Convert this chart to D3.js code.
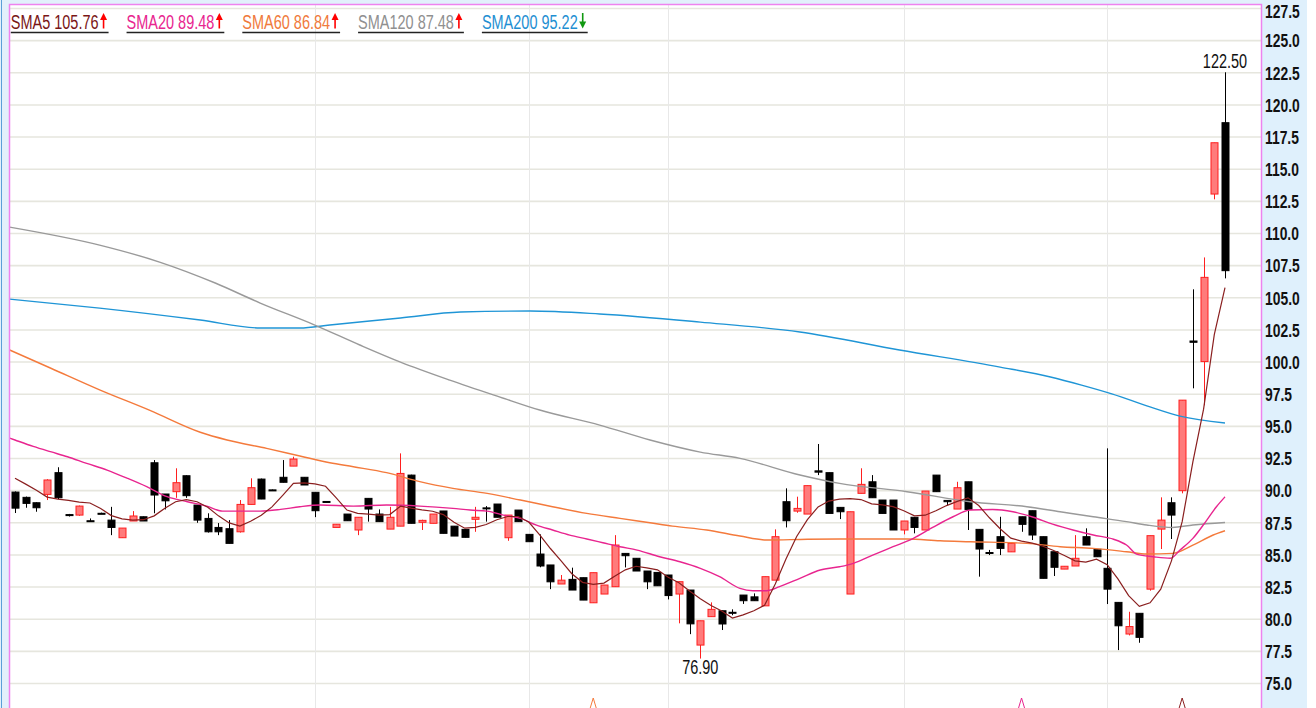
<!DOCTYPE html>
<html>
<head>
<meta charset="utf-8">
<script src="https://cdn.jsdelivr.net/npm/d3@7"></script>
<style>
  html, body { margin: 0; padding: 0; background: #fff; }
  svg { display: block; font-family: "Liberation Sans", Arial, sans-serif; }
</style>
</head>
<body>
<svg id="chart" width="1316" height="708"></svg>
<script>
// daily candles
const candleOpen = [
  89.85, 89.44, 89.02, 89.67, 91.36, 88.10, 88.06, 87.62, 88.20, 87.67,
  86.30, 87.60, 87.93, 92.13, 89.70, 89.88, 91.12, 88.84, 87.80, 87.10,
  87.00, 86.76, 88.89, 90.86, 90.02, 91.00, 91.87, 91.00, 89.83, 89.12,
  87.10, 88.14, 86.90, 89.36, 88.14, 86.97, 87.20, 91.17, 87.50, 87.42,
  88.38, 87.20, 86.95, 87.73, 88.62, 88.92, 86.30, 88.45, 86.56, 85.03,
  84.18, 82.70, 83.06, 83.19, 81.24, 81.92, 82.49, 85.08, 84.70, 83.71,
  83.60, 83.40, 81.92, 82.23, 77.95, 80.16, 80.62, 80.50, 81.84, 81.70,
  81.00, 83.00, 89.10, 88.37, 88.14, 91.50, 91.36, 88.66, 81.92, 89.75,
  90.65, 89.23, 89.23, 86.90, 87.89, 86.90, 91.17, 89.20, 88.53, 90.65,
  86.95, 85.15, 86.38, 85.20, 87.93, 88.40, 86.38, 85.21, 83.86, 84.10,
  86.38, 85.40, 83.92, 81.27, 78.81, 80.42, 82.30, 86.97, 89.02, 89.96,
  101.60, 100.00, 113.03, 118.58
];
const candleHigh = [
  89.90, 89.50, 89.05, 90.85, 91.78, 88.15, 88.80, 87.80, 88.25, 88.70,
  87.05, 88.37, 87.95, 92.34, 89.70, 91.70, 91.15, 88.84, 88.20, 87.44,
  87.67, 89.23, 90.92, 90.90, 90.05, 92.34, 92.60, 91.00, 89.83, 89.15,
  87.35, 88.14, 87.89, 89.36, 88.50, 88.70, 92.86, 91.20, 87.70, 88.14,
  88.38, 87.20, 86.95, 88.70, 88.76, 88.92, 88.06, 88.45, 86.56, 86.56,
  84.18, 83.40, 83.97, 83.19, 83.58, 82.62, 86.50, 85.08, 84.70, 83.71,
  83.60, 83.40, 82.88, 82.23, 79.84, 81.27, 80.62, 80.73, 81.84, 81.97,
  83.27, 86.95, 90.14, 89.49, 90.35, 93.59, 91.36, 88.66, 88.32, 91.70,
  91.17, 89.23, 89.23, 87.60, 87.89, 89.93, 91.17, 89.20, 90.65, 90.65,
  86.95, 85.35, 87.93, 85.86, 87.93, 88.40, 86.38, 85.21, 84.08, 86.50,
  87.03, 85.40, 93.25, 81.27, 80.54, 80.42, 86.46, 89.44, 89.44, 97.00,
  105.62, 108.10, 117.02, 122.50
];
const candleLow = [
  88.22, 88.63, 88.32, 89.23, 89.30, 87.95, 88.00, 87.58, 88.15, 86.50,
  86.30, 87.60, 87.60, 88.20, 88.50, 89.40, 89.40, 87.46, 86.70, 86.50,
  85.86, 86.70, 88.89, 89.30, 89.95, 90.60, 91.87, 90.40, 87.90, 89.05,
  87.10, 87.62, 86.50, 87.55, 87.55, 86.97, 87.20, 87.42, 86.90, 87.42,
  86.64, 86.43, 86.33, 86.76, 87.55, 87.89, 86.06, 87.55, 85.99, 84.00,
  82.30, 82.70, 82.23, 81.45, 81.24, 81.92, 82.49, 83.99, 83.71, 82.30,
  82.56, 81.50, 79.64, 78.80, 76.90, 80.16, 79.12, 80.27, 81.15, 81.40,
  81.00, 83.00, 87.10, 88.24, 88.14, 91.17, 88.19, 87.75, 81.92, 89.75,
  89.41, 88.19, 86.90, 86.56, 86.64, 86.90, 89.88, 88.84, 88.53, 86.90,
  83.27, 84.95, 84.95, 85.20, 86.76, 86.12, 83.14, 83.32, 83.86, 84.10,
  85.73, 84.82, 81.14, 77.56, 78.70, 78.13, 82.18, 85.42, 86.20, 89.75,
  97.92, 96.60, 112.62, 106.47
];
const candleClose = [
  88.60, 88.97, 88.63, 90.79, 89.41, 88.02, 88.76, 87.58, 88.15, 87.10,
  87.05, 87.99, 87.60, 89.62, 89.17, 90.58, 89.57, 87.67, 86.76, 86.76,
  85.86, 88.89, 90.19, 89.31, 89.98, 90.61, 92.42, 90.40, 88.40, 89.08,
  87.35, 87.62, 87.89, 88.53, 87.55, 87.89, 91.30, 87.42, 87.65, 88.14,
  86.64, 86.43, 86.33, 87.89, 88.58, 87.89, 88.06, 87.55, 85.99, 84.10,
  82.87, 83.00, 82.23, 81.45, 83.58, 82.62, 85.73, 84.90, 83.71, 82.87,
  82.56, 81.80, 82.88, 79.60, 79.84, 80.73, 79.59, 80.45, 81.40, 81.40,
  83.27, 86.38, 87.62, 88.58, 90.35, 91.40, 88.19, 88.32, 88.32, 90.45,
  89.41, 88.19, 86.90, 87.60, 87.10, 89.93, 89.88, 89.10, 90.19, 88.50,
  85.42, 85.10, 85.47, 85.86, 87.34, 86.51, 83.14, 84.00, 84.08, 84.70,
  85.73, 84.82, 82.30, 79.45, 79.39, 78.55, 86.46, 87.67, 88.06, 97.00,
  101.50, 106.55, 117.02, 107.07
];

// SMA5, one value per candle
const sma5 = [
  90.92, 90.47, 90.00, 89.46, 89.30, 89.20, 89.07, 89.00, 88.57, 88.02,
  87.77, 87.67, 87.70, 88.00, 88.60, 89.10, 89.26, 89.10, 88.67, 88.00,
  87.45, 87.20, 87.58, 88.05, 88.70, 89.60, 90.53, 90.56, 90.49, 90.30,
  89.40, 88.45, 88.20, 88.14, 88.06, 88.10, 88.75, 88.60, 88.47, 88.36,
  88.10, 87.50, 87.04, 87.10, 87.33, 87.70, 87.95, 87.95, 87.50, 86.53,
  85.46, 84.50, 83.50, 82.83, 82.67, 82.77, 83.30, 83.80, 84.08, 83.95,
  83.80, 83.22, 82.80, 82.15, 81.55, 81.03, 80.60, 80.05, 80.30, 80.62,
  81.05, 82.70, 84.65, 86.40, 87.70, 88.70, 89.15, 89.30, 89.34, 89.27,
  88.93, 88.86, 88.72, 88.40, 88.00, 88.05, 88.40, 88.80, 89.13, 89.40,
  88.80, 87.85, 87.00, 86.27, 86.04, 85.88, 85.64, 85.31, 84.92, 84.50,
  84.40, 84.63, 84.20, 83.10, 81.80, 80.96, 81.24, 82.30, 84.50, 87.55,
  92.20, 96.30, 102.10, 105.76
];

// slower averages, [candle index, value]
const sma20 = [
  [-0.5, 94.05], [0, 93.9], [1.7, 93.4], [3.3, 92.99], [4.9, 92.6], [6.7, 92.08],
  [8.6, 91.56], [10.5, 90.92], [12.3, 90.27], [14.2, 89.49], [16.1, 89.1],
  [17.9, 88.76], [19.4, 88.37], [22.9, 88.37], [24.8, 88.5], [26.6, 88.71],
  [28.5, 88.84], [31.6, 88.76], [34.7, 88.84], [37.8, 88.76], [40.9, 88.58],
  [42.5, 88.45], [44.1, 88.37], [45.6, 88.06], [47.2, 87.8], [48.7, 87.28],
  [50.2, 86.9], [51.8, 86.5], [53.4, 86.2], [54.9, 85.91], [56.5, 85.6],
  [58.1, 85.34], [60.2, 84.82], [62.1, 84.43], [64, 83.92], [65.8, 83.27],
  [67.7, 82.36], [68.9, 82.18], [70.2, 82.18], [71.4, 82.49], [73.3, 83.14],
  [75.2, 83.79], [77, 84.04], [78.3, 84.31], [80.1, 84.95], [82, 85.6],
  [83.9, 86.25], [85.7, 87.1], [87.6, 87.93], [89.2, 88.45], [91.3, 88.5],
  [93.2, 88.32], [95.1, 87.89], [96.9, 87.36], [98.8, 86.9], [100.7, 86.51],
  [102.6, 86.18], [103.8, 85.73], [104.8, 85.0], [106.3, 84.82], [107.9, 84.7],
  [108.8, 85.34], [110, 86.25], [111.3, 87.67], [112.2, 88.71], [113, 89.48]
];
const sma60 = [
  [-0.5, 100.9], [3.3, 99.5], [7.9, 97.8], [12.6, 96.2], [17.3, 94.5],
  [19.8, 93.9], [23.5, 93.25], [26.6, 92.66], [29.4, 92.13], [31.6, 91.82],
  [34.7, 91.36], [37.8, 90.66], [40.9, 90.14], [44.1, 89.75], [47.2, 89.23],
  [50.2, 88.71], [53.4, 88.19], [56.5, 87.8], [59.3, 87.46], [61.4, 87.2],
  [64.6, 86.9], [67.7, 86.43], [70.2, 86.12], [74, 86.18], [77, 86.2],
  [83.3, 86.2], [86.4, 86.06], [89.2, 85.99], [94.5, 85.86], [97.6, 85.6],
  [100.7, 85.47], [103.8, 85.21], [105.7, 85.03], [108.1, 85.08], [110, 85.73],
  [111.9, 86.51], [113, 86.84]
];
const sma120 = [
  [-0.5, 110.46], [7.9, 109.06], [13.5, 107.74], [18.7, 106.11], [22.9, 104.55],
  [28, 102.84], [32.2, 101.29], [36, 99.96], [40.6, 98.56], [45.3, 97.24],
  [49, 96.23], [54.6, 95.06], [59.3, 93.9], [64, 92.96], [67.7, 92.47],
  [73.3, 91.18], [77, 90.53], [83.3, 89.88], [89.2, 89.1], [94.5, 88.71],
  [97.6, 88.32], [100.7, 87.93], [103.8, 87.55], [105.7, 87.29], [108.1, 87.1],
  [110, 87.29], [113, 87.48]
];
const sma200 = [
  [-0.5, 104.86], [7.9, 104.16], [17.3, 103.23], [22.9, 102.61], [26.6, 102.61],
  [29.4, 102.84], [36, 103.39], [41.6, 103.85], [48.1, 103.93], [54.6, 103.7],
  [64, 103.07], [73.3, 102.3], [82.6, 100.9], [92, 99.57], [96.7, 98.8],
  [99.6, 98.17], [102.5, 97.47], [105.7, 96.56], [108.8, 95.76], [113, 95.22]
];

const legendNames = ["SMA5", "SMA20", "SMA60", "SMA120", "SMA200"];
const legendValues = ["105.76", "89.48", "86.84", "87.48", "95.22"];
const legendUp = [true, true, true, true, false];
const lineColors = ["#8a1f1f", "#e8258f", "#f47a3c", "#9a9a9a", "#1f95d6"];
const textColors = ["#7a1616", "#e8258f", "#f07a3c", "#909090", "#1f8fd2"];

const yTicks = d3.range(75, 127.51, 2.5);
const monthIdx = [28, 48, 61, 83, 102];
const crossIdx = [54, 94, 109];
const crossLine = [2, 1, 0];

// ---- layout
const W = 1316, H = 708;
const plot = { left: 9, right: 1261, top: 4, bottom: 708 };
const svg = d3.select("#chart");

const x = d3.scaleLinear().domain([0, candleOpen.length - 1]).range([15, 1225]);
const y = d3.scaleLinear().domain([75, 127.5]).range([683, 8]);

// backgrounds and frame
svg.append("rect").attr("width", W).attr("height", H).attr("fill", "#fff");
svg.append("rect").attr("x", 0).attr("y", 0).attr("width", plot.left).attr("height", H).attr("fill", "#e2f0fb");
svg.append("rect").attr("x", 0).attr("y", 0).attr("width", plot.right).attr("height", plot.top).attr("fill", "#e2f0fb");
svg.append("rect").attr("x", plot.right).attr("y", 0).attr("width", 46).attr("height", H).attr("fill", "#dff0fc");
svg.append("line").attr("x1", 1.5).attr("x2", 1.5).attr("y1", 0).attr("y2", H)
  .attr("stroke", "#5a9fd8").attr("stroke-width", 1);

svg.append("clipPath").attr("id", "plotclip").append("rect")
  .attr("x", plot.left).attr("y", plot.top)
  .attr("width", plot.right - plot.left).attr("height", plot.bottom - plot.top);

const g = svg.append("g").attr("clip-path", "url(#plotclip)");

// horizontal grid
g.append("g")
  .attr("transform", `translate(${plot.left},0)`)
  .call(d3.axisRight(y).tickValues(yTicks).tickSize(plot.right - plot.left).tickFormat(""))
  .call(a => a.select(".domain").remove())
  .call(a => a.selectAll("line").attr("stroke", "#e6e6de").attr("stroke-width", 1.6));

// vertical month lines
g.selectAll(".vgrid").data(monthIdx).join("line")
  .attr("x1", d => Math.round(x(d)) + 0.5).attr("x2", d => Math.round(x(d)) + 0.5)
  .attr("y1", plot.top).attr("y2", plot.bottom)
  .attr("stroke", "#e8e8e8").attr("stroke-width", 1);

// candles
const idx = d3.range(candleOpen.length);
const up = i => candleClose[i] >= candleOpen[i];
const bodyW = 7;

g.selectAll(".wick").data(idx).join("line")
  .attr("x1", i => Math.round(x(i)) + 0.5).attr("x2", i => Math.round(x(i)) + 0.5)
  .attr("y1", i => y(candleHigh[i])).attr("y2", i => y(candleLow[i]))
  .attr("stroke", i => up(i) ? "#ff1f1f" : "#000").attr("stroke-width", 1);

g.selectAll(".body").data(idx).join("rect")
  .attr("x", i => Math.round(x(i)) + 0.5 - bodyW / 2)
  .attr("width", bodyW)
  .attr("y", i => y(Math.max(candleOpen[i], candleClose[i])))
  .attr("height", i => Math.max(1, Math.abs(y(candleOpen[i]) - y(candleClose[i]))))
  .attr("fill", i => up(i) ? "#ff7b7b" : "#000")
  .attr("stroke", i => up(i) ? "#ff1f1f" : "#000")
  .attr("stroke-width", 1);

// moving averages
const smooth = d3.line().x(d => x(d[0])).y(d => y(d[1])).curve(d3.curveMonotoneX);
[[sma200, 4], [sma120, 3], [sma60, 2], [sma20, 1]].forEach(([pts, k]) => {
  g.append("path").attr("d", smooth(pts)).attr("fill", "none")
    .attr("stroke", lineColors[k]).attr("stroke-width", 1.4);
});
const line5 = d3.line().x((d, i) => x(i)).y(d => y(d));
g.append("path").attr("d", line5(sma5)).attr("fill", "none")
  .attr("stroke", lineColors[0]).attr("stroke-width", 1.2);

// cross markers at the bottom
g.selectAll(".cross").data(crossIdx).join("path")
  .attr("d", d => `M${x(d) - 3},${H} L${x(d)},${H - 10} L${x(d) + 3},${H}`)
  .attr("fill", "none")
  .attr("stroke", (d, i) => lineColors[crossLine[i]])
  .attr("stroke-width", 1);

// frame
svg.append("path")
  .attr("d", `M${plot.left + 0.5},${H} V${plot.top + 0.5} H${plot.right + 0.5} V${H}`)
  .attr("fill", "none").attr("stroke", "#ee82ee").attr("stroke-width", 1.5);

// condensed text helper
function narrowText(parent, tx, ty, str, opts) {
  return parent.append("g").attr("transform", `translate(${tx},${ty}) scale(${opts.squeeze},1)`)
    .append("text").text(str)
    .attr("font-size", opts.size).attr("font-weight", opts.weight || "normal")
    .attr("fill", opts.color || "#000")
    .attr("text-anchor", opts.anchor || "start");
}

// high / low labels
const hi = d3.maxIndex(candleHigh), lo = d3.minIndex(candleLow);
narrowText(svg, x(hi), y(candleHigh[hi]) - 4, d3.format(".2f")(candleHigh[hi]),
  { size: 21, squeeze: 0.69, anchor: "middle", color: "#111" });
narrowText(svg, x(lo), y(candleLow[lo]) + 15, d3.format(".2f")(candleLow[lo]),
  { size: 21, squeeze: 0.69, anchor: "middle", color: "#111" });

// right price axis
const axis = svg.append("g").attr("transform", `translate(${plot.right + 4},0)`)
  .call(d3.axisRight(y).tickValues(yTicks).tickSize(0).tickPadding(0).tickFormat(d3.format(".1f")));
axis.select(".domain").remove();
axis.selectAll("text")
  .attr("font-family", "'Liberation Sans', Arial, sans-serif")
  .attr("font-size", 19).attr("font-weight", "bold").attr("fill", "#111")
  .attr("dy", d => d === 127.5 ? "0.5em" : "0.36em")
  .attr("transform", "scale(0.73,1)");

// legend
let lx = 10.8;
legendNames.forEach((name, k) => {
  const sq = 0.69;
  const t = narrowText(svg, lx, 28.5, `${name} ${legendValues[k]}`, { size: 21, squeeze: sq, color: textColors[k] });
  const tw = t.node().getComputedTextLength() * sq;
  const ax = lx + tw + 1.5;
  const aw = 7;
  const col = legendUp[k] ? "#ff0000" : "#119911";
  if (legendUp[k]) {
    svg.append("line").attr("x1", ax + aw / 2).attr("x2", ax + aw / 2).attr("y1", 18).attr("y2", 28.5)
      .attr("stroke", col).attr("stroke-width", 1.6);
    svg.append("path").attr("d", `M${ax},${20} L${ax + aw / 2},${13} L${ax + aw},${20} Z`).attr("fill", col);
  } else {
    svg.append("line").attr("x1", ax + aw / 2).attr("x2", ax + aw / 2).attr("y1", 13).attr("y2", 23.5)
      .attr("stroke", col).attr("stroke-width", 1.6);
    svg.append("path").attr("d", `M${ax},${21.5} L${ax + aw / 2},${28.5} L${ax + aw},${21.5} Z`).attr("fill", col);
  }
  const end = ax + aw + 1.5;
  svg.append("line").attr("x1", lx).attr("x2", end).attr("y1", 32.5).attr("y2", 32.5)
    .attr("stroke", "#222").attr("stroke-width", 1.5);
  lx = end + 18;
});
</script>
</body>
</html>
